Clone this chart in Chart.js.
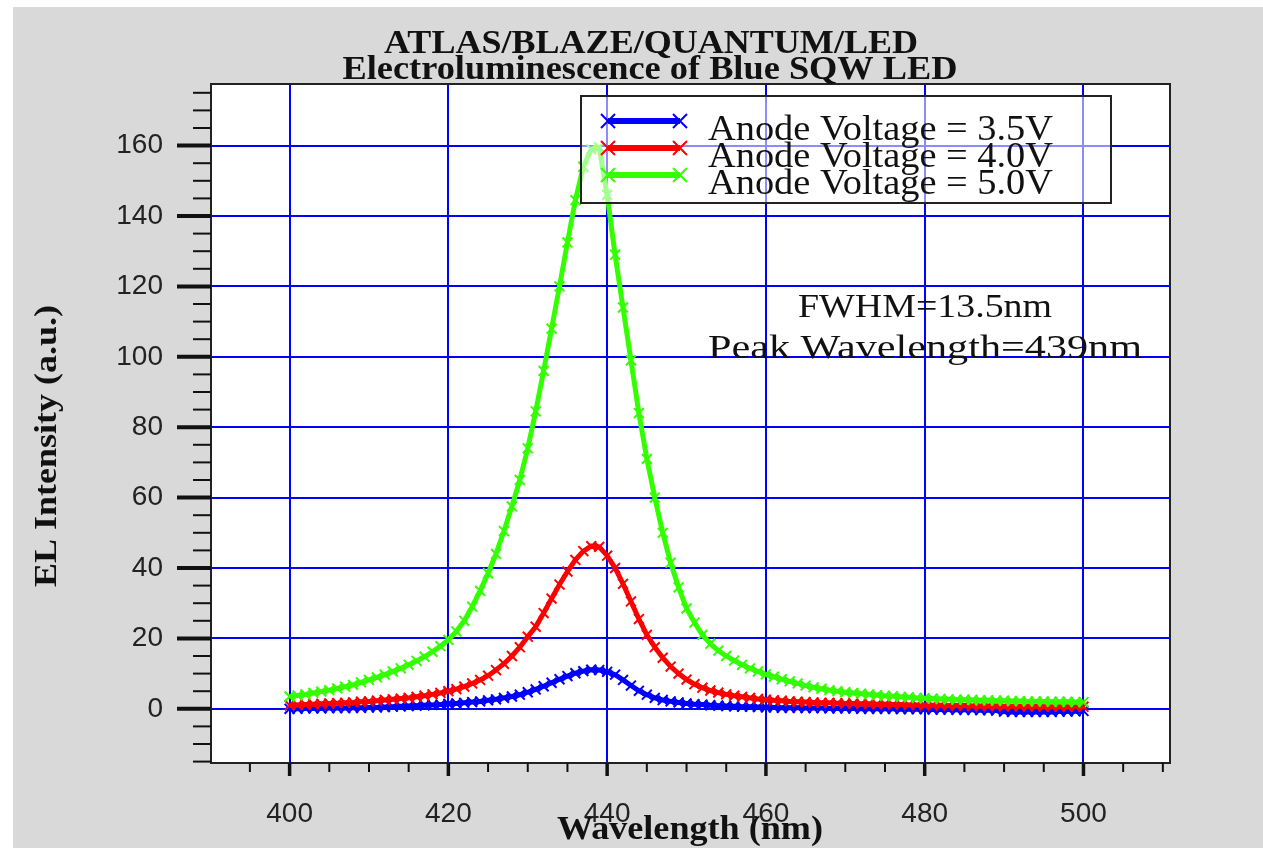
<!DOCTYPE html>
<html>
<head>
<meta charset="utf-8">
<title>Electroluminescence of Blue SQW LED</title>
<script src="https://cdn.jsdelivr.net/npm/chart.js@4.4.1/dist/chart.umd.min.js"></script>
<style>
  html, body { margin: 0; padding: 0; background: #fff; }
  canvas { display: block; }
</style>
</head>
<body>
<canvas id="elChart" width="1263" height="848"></canvas>
<script>
// wavelength (nm), 1 nm step
const wavelengths = [
  400, 401, 402, 403, 404, 405, 406, 407, 408, 409,
  410, 411, 412, 413, 414, 415, 416, 417, 418, 419,
  420, 421, 422, 423, 424, 425, 426, 427, 428, 429,
  430, 431, 432, 433, 434, 435, 436, 437, 438, 439,
  440, 441, 442, 443, 444, 445, 446, 447, 448, 449,
  450, 451, 452, 453, 454, 455, 456, 457, 458, 459,
  460, 461, 462, 463, 464, 465, 466, 467, 468, 469,
  470, 471, 472, 473, 474, 475, 476, 477, 478, 479,
  480, 481, 482, 483, 484, 485, 486, 487, 488, 489,
  490, 491, 492, 493, 494, 495, 496, 497, 498, 499, 500
];

// EL intensity (a.u.)
const anode35 = [
  0.0, 0.0, 0.1, 0.1, 0.1, 0.2, 0.2, 0.2, 0.3, 0.3,
  0.4, 0.4, 0.5, 0.6, 0.7, 0.8, 0.9, 1.0, 1.1, 1.2,
  1.4, 1.5, 1.7, 1.9, 2.1, 2.4, 2.7, 3.1, 3.5, 4.0,
  4.7, 5.5, 6.4, 7.4, 8.4, 9.3, 10.1, 10.7, 11.1, 11.0,
  10.5, 9.7, 8.2, 6.6, 5.1, 4.0, 3.1, 2.5, 2.1, 1.8,
  1.5, 1.3, 1.2, 1.0, 0.9, 0.8, 0.7, 0.6, 0.6, 0.5,
  0.4, 0.4, 0.3, 0.3, 0.3, 0.2, 0.2, 0.2, 0.1, 0.1,
  0.1, 0.1, 0.0, 0.0, 0.0, 0.0, 0.0, -0.1, -0.1, -0.1,
  -0.1, -0.2, -0.2, -0.2, -0.3, -0.3, -0.3, -0.4, -0.4, -0.5,
  -0.8, -0.9, -0.9, -0.9, -0.9, -0.9, -0.9, -0.8, -0.8, -0.7, -0.6
];
const anode40 = [
  1.0, 1.1, 1.2, 1.3, 1.4, 1.5, 1.6, 1.7, 1.8, 2.0,
  2.1, 2.3, 2.5, 2.7, 2.9, 3.1, 3.4, 3.7, 4.1, 4.5,
  5.0, 5.6, 6.3, 7.2, 8.2, 9.4, 11.0, 12.8, 15.0, 17.5,
  20.5, 23.3, 27.2, 31.3, 35.3, 39.0, 42.3, 44.8, 46.2, 46.0,
  43.5, 40.0, 35.5, 30.5, 25.5, 21.0, 17.5, 14.5, 12.0, 10.0,
  8.3, 7.0, 6.0, 5.2, 4.6, 4.1, 3.7, 3.4, 3.1, 2.8,
  2.6, 2.4, 2.3, 2.1, 2.0, 1.9, 1.8, 1.7, 1.7, 1.6,
  1.5, 1.5, 1.4, 1.4, 1.3, 1.3, 1.2, 1.2, 1.1, 1.1,
  1.0, 1.0, 1.0, 0.9, 0.9, 0.9, 0.8, 0.8, 0.8, 0.8,
  0.7, 0.7, 0.7, 0.7, 0.7, 0.6, 0.6, 0.6, 0.6, 0.6, 0.6
];
const anode50 = [
  3.5, 3.8, 4.1, 4.5, 4.9, 5.3, 5.8, 6.3, 6.8, 7.5,
  8.2, 8.9, 9.7, 10.6, 11.5, 12.5, 13.6, 14.8, 16.2, 17.8,
  19.6, 22.0, 25.0, 29.0, 33.5, 38.5, 44.0, 50.5, 57.5, 65.0,
  74.0, 84.5, 96.0, 108.0, 120.0, 132.5, 144.5, 154.0, 159.0, 159.5,
  146.0, 129.0, 114.0, 99.0, 84.0, 71.0, 60.0, 50.0, 41.5, 34.5,
  28.5, 24.5, 21.0, 18.5, 16.5, 15.0, 13.7, 12.5, 11.5, 10.6,
  9.8, 9.1, 8.4, 7.8, 7.2, 6.6, 6.1, 5.7, 5.3, 5.0,
  4.7, 4.5, 4.3, 4.1, 3.9, 3.7, 3.6, 3.4, 3.3, 3.1,
  3.0, 2.9, 2.8, 2.7, 2.6, 2.6, 2.5, 2.4, 2.4, 2.3,
  2.3, 2.2, 2.2, 2.1, 2.1, 2.1, 2.0, 2.0, 2.0, 1.9, 1.9
];

const seriesLabels = ['Anode Voltage = 3.5V', 'Anode Voltage = 4.0V', 'Anode Voltage = 5.0V'];
const seriesColors = ['#0000ff', '#ff0000', '#33ff00'];
const xTickValues = [400, 420, 440, 460, 480, 500];
const yTickValues = [0, 20, 40, 60, 80, 100, 120, 140, 160];

const serif = '"Liberation Serif", "Times New Roman", serif';
const sans = '"Liberation Sans", Arial, sans-serif';

function toPoints(ys) {
  return wavelengths.map((x, i) => ({ x: x, y: ys[i] }));
}

// draw text stretched to the width it has in the picture
function fitText(ctx, text, x, y, width, font, align) {
  ctx.save();
  ctx.font = font;
  ctx.textAlign = 'left';
  ctx.textBaseline = 'alphabetic';
  const w = ctx.measureText(text).width;
  const left = align === 'center' ? x - width / 2 : x;
  ctx.translate(left, y);
  ctx.scale(width / w, 1);
  ctx.fillText(text, 0, 0);
  ctx.restore();
}

function drawCross(ctx, x, y, r) {
  ctx.beginPath();
  ctx.moveTo(x - r, y - r);
  ctx.lineTo(x + r, y + r);
  ctx.moveTo(x - r, y + r);
  ctx.lineTo(x + r, y - r);
  ctx.stroke();
}

const backdrop = {
  id: 'backdrop',
  beforeDraw(chart) {
    const ctx = chart.ctx;
    const a = chart.chartArea;
    ctx.save();
    ctx.fillStyle = '#ffffff';
    ctx.fillRect(0, 0, chart.width, chart.height);
    ctx.fillStyle = '#d9d9d9';
    ctx.fillRect(13, 7, chart.width - 13, chart.height - 7);
    ctx.fillStyle = '#ffffff';
    ctx.fillRect(a.left, a.top, a.right - a.left, a.bottom - a.top);
    ctx.restore();
  }
};

const legendBox = {
  id: 'legendBox',
  afterDatasetsDraw(chart) {
    const ctx = chart.ctx;
    ctx.save();
    ctx.fillStyle = 'rgba(255,255,255,0.55)';
    ctx.fillRect(581, 96, 530, 107);
    ctx.strokeStyle = '#222';
    ctx.lineWidth = 2;
    ctx.strokeRect(581, 96, 530, 107);
    const rows = [121, 148, 175];
    seriesLabels.forEach((label, i) => {
      ctx.strokeStyle = seriesColors[i];
      ctx.lineWidth = 6;
      ctx.beginPath();
      ctx.moveTo(608, rows[i]);
      ctx.lineTo(680, rows[i]);
      ctx.stroke();
      ctx.lineWidth = 2;
      drawCross(ctx, 608, rows[i], 7);
      drawCross(ctx, 680, rows[i], 7);
      ctx.fillStyle = '#111';
      fitText(ctx, label, 708, rows[i] + 19, 345, '35px ' + serif, 'left');
    });
    ctx.restore();
  }
};

const frameAndText = {
  id: 'frameAndText',
  afterDraw(chart) {
    const ctx = chart.ctx;
    const a = chart.chartArea;
    const xs = chart.scales.x;
    const ys = chart.scales.y;
    ctx.save();
    // plot frame
    ctx.strokeStyle = '#222';
    ctx.lineWidth = 2;
    ctx.strokeRect(a.left, a.top, a.right - a.left, a.bottom - a.top);

    // tick marks outside the frame
    ctx.strokeStyle = '#111';
    for (let v = 395; v <= 510; v += 5) {
      const px = xs.getPixelForValue(v);
      const major = v % 20 === 0;
      ctx.lineWidth = major ? 3.5 : 2;
      ctx.beginPath();
      ctx.moveTo(px, a.bottom);
      ctx.lineTo(px, a.bottom + (major ? 13 : 9));
      ctx.stroke();
    }
    for (let v = -15; v <= 175; v += 5) {
      const py = ys.getPixelForValue(v);
      const major = v % 20 === 0;
      ctx.lineWidth = major ? 4 : 2;
      ctx.beginPath();
      ctx.moveTo(a.left, py);
      ctx.lineTo(a.left - (major ? 34 : 18), py);
      ctx.stroke();
    }

    ctx.fillStyle = '#111';
    // title
    fitText(ctx, 'ATLAS/BLAZE/QUANTUM/LED', 651, 53, 534, 'bold 34px ' + serif, 'center');
    fitText(ctx, 'Electroluminescence of Blue SQW LED', 650, 79, 615, 'bold 33px ' + serif, 'center');
    // annotations
    fitText(ctx, 'FWHM=13.5nm', 798, 317, 254, '34px ' + serif, 'left');
    fitText(ctx, 'Peak Wavelength=439nm', 708, 358, 434, '34px ' + serif, 'left');
    // axis titles
    fitText(ctx, 'Wavelength (nm)', 690, 839, 266, 'bold 33px ' + serif, 'center');
    ctx.save();
    ctx.translate(56, 446);
    ctx.rotate(-Math.PI / 2);
    fitText(ctx, 'EL Intensity (a.u.)', 0, 0, 282, 'bold 32px ' + serif, 'center');
    ctx.restore();
    ctx.restore();
  }
};

const datasets = [anode35, anode40, anode50].map((ys, i) => ({
  label: seriesLabels[i],
  data: toPoints(ys),
  borderColor: seriesColors[i],
  backgroundColor: seriesColors[i],
  borderWidth: 5,
  pointStyle: 'crossRot',
  pointRadius: 7,
  pointBorderWidth: 2,
  pointBorderColor: seriesColors[i],
  fill: false,
  tension: 0,
  order: 3 - i
}));

new Chart(document.getElementById('elChart'), {
  type: 'line',
  data: { datasets: datasets },
  options: {
    responsive: false,
    animation: false,
    devicePixelRatio: 1,
    layout: { padding: { left: 0, top: 84, right: 93, bottom: 0 } },
    plugins: {
      legend: { display: false },
      title: { display: false },
      tooltip: { enabled: false }
    },
    scales: {
      x: {
        type: 'linear',
        min: 390.1,
        max: 510.9,
        afterBuildTicks: (axis) => { axis.ticks = xTickValues.map(v => ({ value: v })); },
        afterFit: (axis) => { axis.height = 85; },
        grid: { color: '#0000ff', lineWidth: 2, drawTicks: false },
        border: { color: '#222', width: 2 },
        ticks: {
          color: '#222',
          font: { family: sans, size: 28 },
          padding: 34,
          maxRotation: 0,
          autoSkip: false
        }
      },
      y: {
        type: 'linear',
        min: -15.4,
        max: 177.5,
        afterBuildTicks: (axis) => { axis.ticks = yTickValues.map(v => ({ value: v })); },
        afterFit: (axis) => { axis.width = 211; },
        grid: { color: '#0000ff', lineWidth: 2, drawTicks: false },
        border: { color: '#222', width: 2 },
        ticks: {
          color: '#222',
          font: { family: sans, size: 28 },
          padding: 48,
          autoSkip: false
        }
      }
    }
  },
  plugins: [backdrop, legendBox, frameAndText]
});
</script>
</body>
</html>
